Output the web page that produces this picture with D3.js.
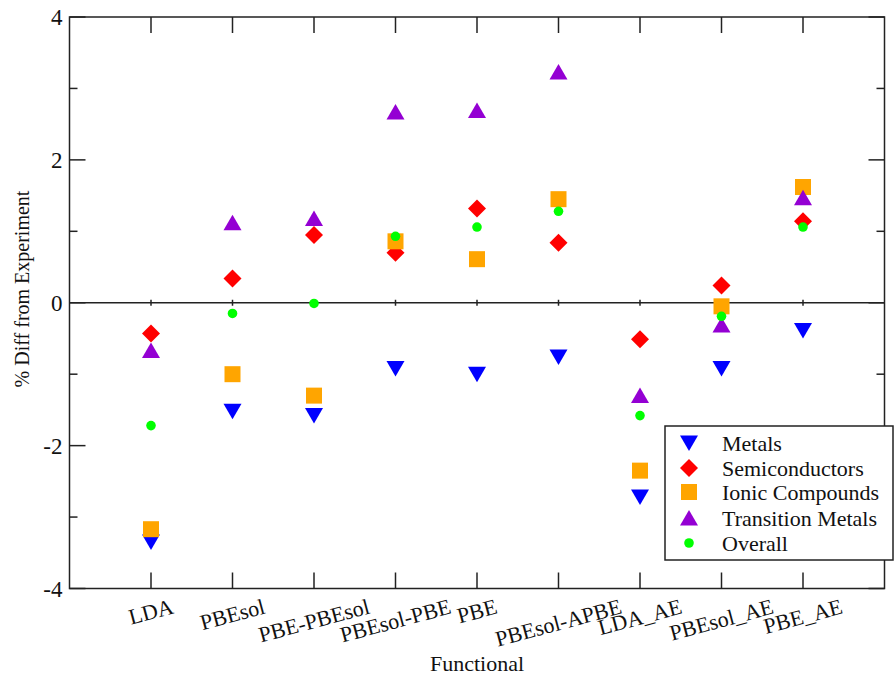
<!DOCTYPE html>
<html lang="en">
<head>
<meta charset="utf-8">
<title>% Diff from Experiment</title>
<script src="https://cdn.jsdelivr.net/npm/d3@7"></script>
<style>
  body { margin: 0; background: #fff; }
  text { font-family: "Liberation Serif", "DejaVu Serif", serif; fill: #111; }
</style>
</head>
<body>
<script>
// data
var functionals = ["LDA", "PBEsol", "PBE-PBEsol", "PBEsol-PBE", "PBE", "PBEsol-APBE", "LDA_AE", "PBEsol_AE", "PBE_AE"];
var metals      = [-3.35, -1.52, -1.58, -0.92, -1.00, -0.76, -2.72, -0.92, -0.39];
var semis       = [-0.43,  0.34,  0.95,  0.70,  1.32,  0.84, -0.51,  0.24,  1.14];
var ionics      = [-3.17, -1.00, -1.30,  0.86,  0.61,  1.45, -2.35, -0.05,  1.62];
var transition  = [-0.67,  1.12,  1.18,  2.67,  2.69,  3.23, -1.30, -0.31,  1.47];
var overall     = [-1.72, -0.15, -0.01,  0.93,  1.06,  1.28, -1.58, -0.19,  1.06];
var yTicks = [-4, -2, 0, 2, 4];
var yMinor = [-3, -1, 1, 3];

var series = [
  {name: "Metals", values: metals, color: "#0000ff", shape: "down"},
  {name: "Semiconductors", values: semis, color: "#ff0000", shape: "diamond"},
  {name: "Ionic Compounds", values: ionics, color: "#ffa500", shape: "square"},
  {name: "Transition Metals", values: transition, color: "#9400d3", shape: "up"},
  {name: "Overall", values: overall, color: "#00ff00", shape: "circle"}
];

var W = 895, H = 681;
var pLeft = 69.5, pRight = 884.5, pTop = 17, pBottom = 588.5;

var svg = d3.select("body").append("svg")
  .attr("width", W).attr("height", H);

var x = d3.scaleLinear().domain([0, functionals.length + 1]).range([pLeft, pRight]);
var y = d3.scaleLinear().domain([-4, 4]).range([pBottom, pTop]);

var ink = "#222";

// zero line with little ticks
svg.append("line")
  .attr("x1", pLeft).attr("x2", pRight)
  .attr("y1", y(0)).attr("y2", y(0))
  .attr("stroke", ink).attr("stroke-width", 1.5);
svg.selectAll(".zt").data(functionals).enter().append("line")
  .attr("x1", function(d, i) { return x(i + 1); })
  .attr("x2", function(d, i) { return x(i + 1); })
  .attr("y1", y(0) - 3).attr("y2", y(0) + 3)
  .attr("stroke", ink).attr("stroke-width", 1.5);

// frame
svg.append("rect")
  .attr("x", pLeft).attr("y", pTop)
  .attr("width", pRight - pLeft).attr("height", pBottom - pTop)
  .attr("fill", "none").attr("stroke", ink).attr("stroke-width", 1.5);

// inward ticks on all four sides
var tk = svg.append("g").attr("stroke", ink).attr("stroke-width", 1.5);
functionals.forEach(function(d, i) {
  var xx = x(i + 1);
  tk.append("line").attr("x1", xx).attr("x2", xx).attr("y1", pBottom).attr("y2", pBottom - 16);
  tk.append("line").attr("x1", xx).attr("x2", xx).attr("y1", pTop).attr("y2", pTop + 16);
});
yTicks.forEach(function(v) {
  tk.append("line").attr("x1", pLeft).attr("x2", pLeft + 16).attr("y1", y(v)).attr("y2", y(v));
  tk.append("line").attr("x1", pRight).attr("x2", pRight - 16).attr("y1", y(v)).attr("y2", y(v));
});
yMinor.forEach(function(v) {
  tk.append("line").attr("x1", pLeft).attr("x2", pLeft + 8).attr("y1", y(v)).attr("y2", y(v));
  tk.append("line").attr("x1", pRight).attr("x2", pRight - 8).attr("y1", y(v)).attr("y2", y(v));
});

// y tick labels
svg.selectAll(".yl").data(yTicks).enter().append("text")
  .attr("x", pLeft - 7).attr("y", function(d) { return y(d); })
  .attr("dy", "0.35em").attr("text-anchor", "end")
  .attr("font-size", 23)
  .text(function(d) { return d; });

// x tick labels, rotated 15 degrees, bounding box hangs below axis
var ang = 15, rad = ang * Math.PI / 180, fs = 22;
var xl = svg.selectAll(".xl").data(functionals).enter().append("text")
  .attr("font-size", fs).attr("text-anchor", "middle")
  .text(function(d) { return d; });
xl.each(function(d, i) {
  var w = this.getComputedTextLength();
  var bh = w * Math.sin(rad) + fs * Math.cos(rad);
  var cx = x(i + 1), cy = pBottom + 7 + bh / 2;
  d3.select(this)
    .attr("x", 0).attr("y", 0).attr("dy", "0.33em")
    .attr("transform", "translate(" + cx + "," + cy + ") rotate(" + (-ang) + ")");
});

// axis titles
svg.append("text")
  .attr("x", x(5)).attr("y", 671)
  .attr("text-anchor", "middle").attr("font-size", 22)
  .text("Functional");
svg.append("text")
  .attr("transform", "translate(29,289) rotate(-90)")
  .attr("text-anchor", "middle").attr("font-size", 20)
  .text("% Diff from Experiment");

// marker shapes
function shapePath(shape) {
  var p = d3.path();
  if (shape === "down") { p.moveTo(-9, -7.5); p.lineTo(9, -7.5); p.lineTo(0, 8); p.closePath(); }
  else if (shape === "up") { p.moveTo(-9, 7.5); p.lineTo(9, 7.5); p.lineTo(0, -8); p.closePath(); }
  else if (shape === "diamond") { p.moveTo(0, -9); p.lineTo(9, 0); p.lineTo(0, 9); p.lineTo(-9, 0); p.closePath(); }
  else if (shape === "square") { p.rect(-8, -8, 16, 16); }
  else { p.arc(0, 0, 4.8, 0, 2 * Math.PI); p.closePath(); }
  return p.toString();
}

series.forEach(function(s) {
  svg.append("g").selectAll("path").data(s.values).enter().append("path")
    .attr("d", shapePath(s.shape))
    .attr("transform", function(d, i) { return "translate(" + x(i + 1) + "," + y(d) + ")"; })
    .attr("fill", s.color);
});

// legend
var lg = svg.append("g");
lg.append("rect")
  .attr("x", 665).attr("y", 426).attr("width", 228).attr("height", 134)
  .attr("fill", "#fff").attr("stroke", ink).attr("stroke-width", 1.5);
var rowsY = [443, 468, 492, 518, 543];
series.forEach(function(s, i) {
  lg.append("path")
    .attr("d", shapePath(s.shape))
    .attr("transform", "translate(689," + rowsY[i] + ")")
    .attr("fill", s.color);
  lg.append("text")
    .attr("x", 722).attr("y", rowsY[i]).attr("dy", "0.35em")
    .attr("font-size", 22)
    .text(s.name);
});
</script>
</body>
</html>
